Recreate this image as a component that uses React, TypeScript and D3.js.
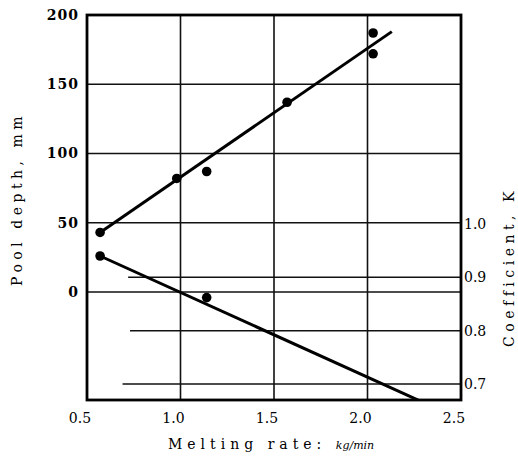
import React from "react";
import * as d3 from "d3";

// melting rate (kg/min) vs pool depth (mm)
const depthRate = [0.57, 0.98, 1.14, 1.57, 2.03, 2.03];
const depthMm = [43, 82, 87, 137, 187, 172];
const depthFit = [
  [0.57, 43],
  [2.13, 188],
];

// melting rate vs coefficient K
const kRate = [0.57, 1.14];
const kValue = [0.94, 0.862];
const kFit = [
  [0.57, 0.94],
  [2.32, 0.662],
];

const xTicks = [0.5, 1.0, 1.5, 2.0, 2.5];
const depthTicks = [0, 50, 100, 150, 200];
const kTicks = [1.0, 0.9, 0.8, 0.7];
// right-axis grid lines do not run the full width in the original
const kGridStart = [0.5, 0.72, 0.73, 0.69];

const W = 518;
const H = 470;
const left = 87;
const right = 461;
const top = 15;
const bottom = 400;

const App = () => {
  const x = d3.scaleLinear().domain([0.5, 2.5]).range([left, right]);
  const yL = d3.scaleLinear().domain([0, 200]).range([292, top]);
  const yR = d3.scaleLinear().domain([0.7, 1.0]).range([384, 224]);

  const lineL = d3.line<number[]>().x(d => x(d[0])).y(d => yL(d[1]));
  const lineR = d3.line<number[]>().x(d => x(d[0])).y(d => yR(d[1]));

  const font = "DejaVu Serif";

  return (
    <svg
      width={W}
      height={H}
      style={{ position: "absolute", left: 0, top: 0, background: "#fff" }}
    >
      <defs>
        <clipPath id="plot">
          <rect x={left} y={top} width={right - left} height={bottom - top} />
        </clipPath>
      </defs>

      {/* grid */}
      {depthTicks.slice(0, 4).map(t => (
        <line key={"gl" + t} x1={left} x2={right} y1={yL(t)} y2={yL(t)} stroke="#111" strokeWidth={1.5} />
      ))}
      {kTicks.slice(1).map((t, i) => (
        <line key={"gr" + t} x1={x(kGridStart[i + 1])} x2={right} y1={yR(t)} y2={yR(t)} stroke="#111" strokeWidth={1.5} />
      ))}
      {xTicks.slice(1, 4).map(t => (
        <line key={"gx" + t} x1={x(t)} x2={x(t)} y1={top} y2={bottom} stroke="#111" strokeWidth={1.6} />
      ))}

      {/* frame */}
      <rect x={left} y={top} width={right - left} height={bottom - top} fill="none" stroke="#000" strokeWidth={2.8} />

      {/* fits */}
      <g clipPath="url(#plot)">
        <path d={lineL(depthFit) ?? ""} fill="none" stroke="#000" strokeWidth={3} />
        <path d={lineR(kFit) ?? ""} fill="none" stroke="#000" strokeWidth={3} />
      </g>

      {/* points */}
      {depthRate.map((r, i) => (
        <circle key={"pd" + i} cx={x(r)} cy={yL(depthMm[i])} r={4.8} fill="#000" />
      ))}
      {kRate.map((r, i) => (
        <circle key={"pk" + i} cx={x(r)} cy={yR(kValue[i])} r={4.8} fill="#000" />
      ))}

      <g fontFamily={font}>
        {/* tick labels */}
        {depthTicks.map(t => (
          <text key={"tl" + t} x={79} y={yL(t)} dy="0.35em" textAnchor="end" fontSize={14} fontWeight="bold" letterSpacing={1}>
            {t}
          </text>
        ))}
        {kTicks.map(t => (
          <text key={"tr" + t} x={464} y={yR(t)} dy="0.35em" fontSize={14}>
            {t.toFixed(1)}
          </text>
        ))}
        {xTicks.map(t => (
          <text key={"tx" + t} x={x(t) - 7} y={423} textAnchor="middle" fontSize={14}>
            {t.toFixed(1)}
          </text>
        ))}

        {/* axis titles */}
        <text transform="translate(22,199) rotate(-90)" textAnchor="middle" fontSize={14} letterSpacing={4.5}>
          Pool depth, mm
        </text>
        <text transform="translate(514,267) rotate(-90)" textAnchor="middle" fontSize={14} letterSpacing={4.5}>
          Coefficient, K
        </text>
        <text x={168} y={449} fontSize={14} letterSpacing={5}>
          Melting rate:{" "}
          <tspan fontStyle="italic" fontSize={11} letterSpacing={0}>
            kg/min
          </tspan>
        </text>
      </g>
    </svg>
  );
};

export default App;
